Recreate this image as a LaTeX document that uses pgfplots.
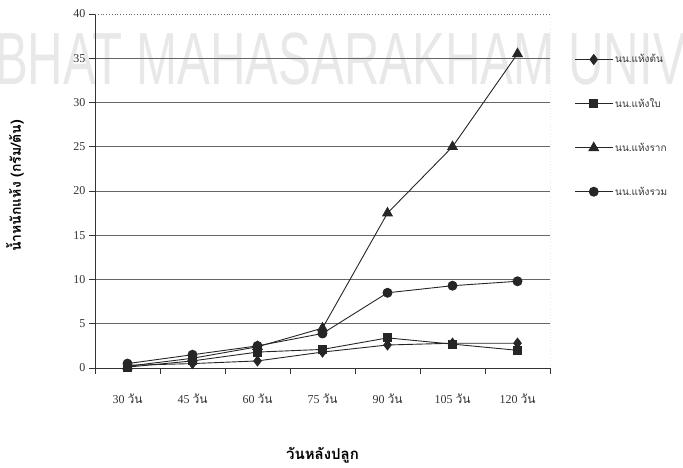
\documentclass[border=0pt]{standalone}
\usepackage{fontspec}
\usepackage{pgfplots}
\pgfplotsset{compat=1.18}
\setmainfont{Liberation Serif}
\newfontfamily\thaifont[Script=Thai]{Loma}
\newfontfamily\wmfont{Liberation Sans}

\begin{document}
\begin{tikzpicture}
% faded watermark of the scanned page
\node[anchor=base west, inner sep=0, text=black!9, font=\wmfont\fontsize{74}{74}\selectfont, xscale=0.665] at (-5pt,382pt) {BHAT MAHASARAKHAM UNIV};
\begin{axis}[
  at={(95pt,99pt)}, anchor=south west,
  scale only axis, width=455pt, height=354pt,
  xmin=-0.5, xmax=6.5, ymin=0, ymax=40,
  axis lines*=left,
  axis line style={line width=0.8pt, black!80},
  every tick/.style={black!80, line width=0.8pt},
  tick align=outside,
  major tick length=6pt,
  xtick={-0.5,0.5,...,6.5},
  xticklabels={},
  extra x ticks={0,1,2,3,4,5,6},
  extra x tick labels={30 {\thaifont วัน},45 {\thaifont วัน},60 {\thaifont วัน},75 {\thaifont วัน},90 {\thaifont วัน},105 {\thaifont วัน},120 {\thaifont วัน}},
  extra x tick style={major tick length=0pt, tick label style={yshift=-22pt}},
  ytick={0,5,...,35},
  extra y ticks={40},
  extra y tick style={grid=none},
  ymajorgrids,
  major grid style={black!60, line width=0.8pt},
  /pgf/number format/assume math mode=true,
  tick label style={font=\fontsize{12}{14}\selectfont, text=black!80},
  xlabel={\thaifont\bfseries วันหลังปลูก},
  ylabel={\thaifont\bfseries น้ำหนักแห้ง (กรัม/ต้น)},
  xlabel style={at={(axis description cs:0.5,-0.246)}, anchor=center, font=\fontsize{15}{17}\selectfont},
  ylabel style={at={(axis description cs:-0.176,0.514)}, anchor=center, font=\fontsize{14}{16}\selectfont},
  legend style={at={(1.053,0.8915)}, anchor=north west, draw=none, fill=none, inner sep=0pt,
    font=\thaifont\fontsize{10}{12}\selectfont, row sep=30pt, text=black!80},
  legend cell align=left,
  legend image code/.code={\draw[mark repeat=2,mark phase=2] plot coordinates {(0pt,0pt)(19pt,0pt)(38pt,0pt)};},
  every axis plot/.append style={black!85, line width=0.9pt},
]
\addplot[mark=diamond*, mark size=5pt] coordinates {(0,0.3)(1,0.5)(2,0.8)(3,1.8)(4,2.6)(5,2.8)(6,2.8)};
\addlegendentry{นน.แห้งต้น}
\addplot[mark=square*, mark size=4pt] coordinates {(0,0.1)(1,0.8)(2,1.8)(3,2.1)(4,3.4)(5,2.7)(6,2.0)};
\addlegendentry{นน.แห้งใบ}
\addplot[mark=triangle*, mark size=5.5pt] coordinates {(0,0.2)(1,1.1)(2,2.4)(3,4.5)(4,17.5)(5,25)(6,35.5)};
\addlegendentry{นน.แห้งราก}
\addplot[mark=*, mark size=4.5pt] coordinates {(0,0.5)(1,1.5)(2,2.5)(3,3.9)(4,8.5)(5,9.3)(6,9.8)};
\addlegendentry{นน.แห้งรวม}
\draw[black!60, dotted, line width=0.8pt] (rel axis cs:0,1) -- (rel axis cs:1,1) -- (rel axis cs:1,0);
\end{axis}
\pgfresetboundingbox
\path[use as bounding box] (0pt,0pt) rectangle (683pt,467pt);
\end{tikzpicture}
\end{document}
